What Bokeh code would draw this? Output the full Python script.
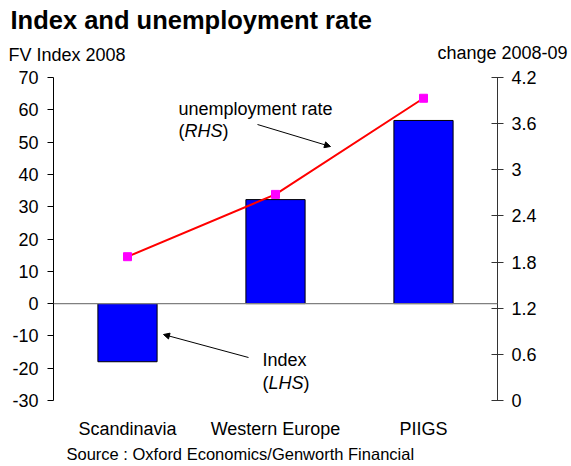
from bokeh.plotting import figure
from bokeh.models import (FactorRange, Range1d, LinearAxis, FixedTicker, Title,
                          CustomJSTickFormatter, Label, Arrow, NormalHead, Span)
from bokeh.embed import file_html
from bokeh.resources import INLINE

categories = ["Scandinavia", "Western Europe", "PIIGS"]
index_values = [-18.0, 32.2, 56.7]
unemployment_change = [1.87, 2.68, 3.93]
left_ticks = [-30, -20, -10, 0, 10, 20, 30, 40, 50, 60, 70]
right_ticks = [0, 0.6, 1.2, 1.8, 2.4, 3.0, 3.6, 4.2]

FONT = "Liberation Sans"
W, H = 569, 466
FL, FR, FT, FB = 53, 497, 77, 400   # page coords of the frame

p = figure(width=W, height=H, x_range=FactorRange(*categories),
           y_range=Range1d(-30, 70), output_backend="svg", toolbar_location=None,
           min_border_left=FL, min_border_right=W - FR,
           min_border_top=FT, min_border_bottom=H - FB)
p.title = None
p.outline_line_color = None
p.grid.visible = False
p.background_fill_color = "white"
p.border_fill_color = "white"

ya = p.yaxis[0]
ya.ticker = FixedTicker(ticks=left_ticks)
ya.formatter = CustomJSTickFormatter(code="return tick.toFixed(0);")
ya.major_tick_in = 0
ya.major_tick_out = 6
ya.minor_tick_line_color = None
ya.axis_line_color = "black"
ya.major_tick_line_color = "black"
ya.major_label_text_font = FONT
ya.major_label_text_font_size = "18px"
ya.major_label_text_color = "black"
ya.major_label_standoff = 9

p.extra_y_ranges = {"right": Range1d(0, 4.2)}
ra = LinearAxis(y_range_name="right", ticker=FixedTicker(ticks=right_ticks),
                formatter=CustomJSTickFormatter(code="return tick.toFixed(1).replace(/\\.0$/, '');"))
ra.major_tick_in = 6
ra.major_tick_out = 6
ra.minor_tick_line_color = None
ra.axis_line_color = "#333333"
ra.major_tick_line_color = "#333333"
ra.major_label_text_font = FONT
ra.major_label_text_font_size = "18px"
ra.major_label_text_color = "black"
ra.major_label_standoff = 8
p.add_layout(ra, "right")

xa = p.xaxis[0]
xa.axis_line_color = None
xa.major_tick_line_color = None
xa.minor_tick_line_color = None
xa.major_tick_in = 0
xa.major_tick_out = 0
xa.major_label_text_font = FONT
xa.major_label_text_font_size = "18px"
xa.major_label_text_color = "black"
xa.major_label_standoff = 18

p.add_layout(Span(location=0, dimension="width", line_color="#808080", line_width=1.2))

p.vbar(x=categories, top=index_values, bottom=0, width=0.4,
       fill_color="#0000FF", line_color="black", line_width=1)

p.line(x=categories, y=unemployment_change, y_range_name="right",
       line_color="#FF0000", line_width=2)
p.scatter(x=categories, y=unemployment_change, y_range_name="right",
          marker="square", size=8, fill_color="#FF00FF", line_color="#FF00FF")


def lab(text, px, py, style="normal"):
    p.add_layout(Label(x=px - FL, y=FB - py, x_units="screen", y_units="screen",
                       text=text, text_font=FONT, text_font_size="18px",
                       text_font_style=style, text_baseline="alphabetic",
                       text_color="black"))


lab("unemployment rate", 178, 108)
lab("(", 178, 130)
lab("RHS", 184, 130, style="italic")
lab(")", 222, 130)

lab("Index", 262, 359)
lab("(", 262, 382)
lab("LHS", 268, 382, style="italic")
lab(")", 303, 382)


def arrow(x0, y0, x1, y1):
    p.add_layout(Arrow(x_start=x0 - FL, y_start=FB - y0, x_end=x1 - FL, y_end=FB - y1,
                       start_units="screen", end_units="screen",
                       line_color="black", line_width=1,
                       end=NormalHead(size=6, fill_color="black", line_color="black")))


arrow(257, 124, 330, 146)
arrow(248, 357, 163, 334)


def title(text, side, align, offset, standoff, size, style="normal", valign="bottom"):
    p.add_layout(Title(text=text, align=align, offset=offset, standoff=standoff,
                       text_font=FONT, text_font_size=size, text_font_style=style,
                       text_color="black", vertical_align=valign), side)


# above stack: first added is closest to the frame
title("FV Index 2008", "above", "left", 8 - FL, 25, "18px")
title("change 2008-09", "above", "right", FR - 567, -64, "18px")
title("Index and unemployment rate", "above", "left", 10 - FL, -7, "25.5px", style="bold")
# below: source line
title("Source : Oxford Economics/Genworth Financial", "below", "left", 66 - FL, 3, "16.5px")

open("out.html", "w").write(file_html(p, INLINE))
